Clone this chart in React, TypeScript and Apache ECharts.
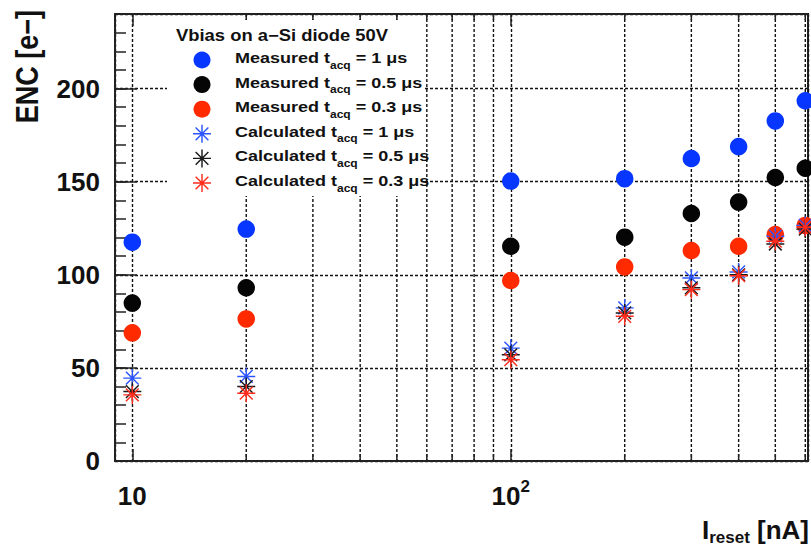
import { useEffect, useRef } from "react";
import * as echarts from "echarts";

// Reset current of the preamplifier [nA]
const resetCurrents = [10, 20, 100, 200, 300, 400, 500, 600];

// Measured ENC [e-] for three acquisition times
const measured1us = [117.5, 124.5, 150.3, 151.6, 162.4, 168.8, 182.6, 193.4];
const measured05us = [84.8, 93.0, 115.3, 120.2, 132.9, 139.0, 152.2, 157.2];
const measured03us = [68.8, 76.3, 96.9, 104.2, 113.0, 115.3, 121.6, 126.5];

// Calculated ENC [e-]
const calculated1us = [44.5, 45.4, 60.6, 82.2, 98.3, 101.5, 120.7, 126.5];
const calculated05us = [37.3, 40.0, 57.0, 79.5, 93.0, 100.0, 116.5, 124.5];
const calculated03us = [35.5, 36.4, 54.4, 77.7, 92.0, 99.5, 118.0, 125.5];

// Intermediate decade positions on the logarithmic current axis
const minorCurrents = [20, 30, 40, 50, 60, 70, 80, 90, 200, 300, 400, 500, 600];

const legendTitle = "Vbias on a\u2212Si diode 50V";
const legendKinds = ["Measured", "Measured", "Measured", "Calculated", "Calculated", "Calculated"];
const legendTimes = ["1", "0.5", "0.3", "1", "0.5", "0.3"];

const FONT = "'Liberation Sans', Arial, Helvetica, sans-serif";
const INK = "#111";
const FRAME = "#222";
const GRID_INK = "#111";

const COLORS = {
  blue: "#0636ff",
  black: "#050505",
  red: "#ff2a00",
  blueStar: "#2d55ff",
  blackStar: "#1a1a1a",
  redStar: "#ff2b1c",
};

// Eight-armed asterisk built from four thin bars, all wound the same way
const ASTERISK_D =
  "M-10 -0.8 L10 -0.8 L10 0.8 L-10 0.8 Z " +
  "M-0.8 -10 L0.8 -10 L0.8 10 L-0.8 10 Z " +
  "M-7.636 -6.504 L-6.504 -7.636 L7.636 6.504 L6.504 7.636 Z " +
  "M-6.504 7.636 L-7.636 6.504 L6.504 -7.636 L7.636 -6.504 Z";

const seriesDefs = [
  { values: measured1us, color: COLORS.blue, star: false },
  { values: measured05us, color: COLORS.black, star: false },
  { values: measured03us, color: COLORS.red, star: false },
  { values: calculated1us, color: COLORS.blueStar, star: true },
  { values: calculated05us, color: COLORS.blackStar, star: true },
  { values: calculated03us, color: COLORS.redStar, star: true },
];

const seriesName = (i: number) => `${legendKinds[i]} t_acq = ${legendTimes[i]} \u03bcs`;

function buildLegend() {
  const children: any[] = [
    {
      type: "rect",
      shape: { x: 167, y: 20, width: 258, height: 176 },
      style: { fill: "#fff" },
      z: 10,
    },
    {
      type: "text",
      x: 176,
      y: 35.5,
      scaleX: 1.15,
      z: 11,
      style: {
        text: legendTitle,
        fontSize: 16,
        fontWeight: "bold",
        fontFamily: FONT,
        fill: INK,
        align: "left",
        verticalAlign: "middle",
        textAlign: "left",
        textVerticalAlign: "middle",
      },
    },
  ];
  seriesDefs.forEach((def, i) => {
    const y = 60 + i * 24.6;
    if (def.star) {
      children.push({
        type: "asterisk",
        x: 202,
        y,
        scaleX: 0.9,
        scaleY: 0.9,
        z: 11,
        style: { fill: def.color },
      });
    } else {
      children.push({
        type: "circle",
        shape: { cx: 202, cy: y, r: 8.5 },
        z: 11,
        style: { fill: def.color },
      });
    }
    children.push({
      type: "text",
      x: 235,
      y: y - 2,
      scaleX: 1.2,
      z: 11,
      style: {
        text: `{m|${legendKinds[i]} t}{s|acq}{m| = ${legendTimes[i]} \u03bcs}`,
        fontFamily: FONT,
        fill: INK,
        align: "left",
        verticalAlign: "middle",
        textAlign: "left",
        textVerticalAlign: "middle",
        rich: {
          m: { fontSize: 15, fontWeight: "bold", fontFamily: FONT, fill: INK, color: INK },
          s: { fontSize: 10, fontWeight: "bold", fontFamily: FONT, fill: INK, color: INK, padding: [14, 0, 0, 0] },
        },
      },
    });
  });
  return children;
}

function buildOption() {
  const tickLabel = (v: number) => {
    if (Math.abs(v - 10) < 1e-6) return "{b|10}";
    if (Math.abs(v - 100) < 1e-6) return "{b|10}{s|2}";
    return "";
  };

  const scatterSeries = seriesDefs.map((def, i) => ({
    type: "scatter",
    name: seriesName(i),
    xAxisIndex: 0,
    yAxisIndex: 0,
    data: resetCurrents.map((x, k) => [x, def.values[k]]),
    symbol: def.star ? "path://" + ASTERISK_D : "circle",
    symbolSize: def.star ? 18 : 17.5,
    itemStyle: { color: def.color, opacity: 1 },
    z: 3 + i,
    silent: true,
  }));

  const minorGrid = {
    type: "custom",
    xAxisIndex: 0,
    yAxisIndex: 0,
    silent: true,
    z: 1,
    data: minorCurrents.map((v) => [v, 0]),
    renderItem: (params: any, api: any) => {
      const x = api.coord([api.value(0), 0])[0];
      const cs = params.coordSys;
      const top = cs.y;
      const bottom = cs.y + cs.height;
      return {
        type: "group",
        children: [
          {
            type: "line",
            shape: { x1: x, y1: top, x2: x, y2: bottom },
            style: { stroke: GRID_INK, lineWidth: 1.4, lineDash: [3, 2] },
          },
          {
            type: "line",
            shape: { x1: x, y1: bottom, x2: x, y2: bottom - 7 },
            style: { stroke: FRAME, lineWidth: 1.5 },
          },
          {
            type: "line",
            shape: { x1: x, y1: top, x2: x, y2: top + 6 },
            style: { stroke: FRAME, lineWidth: 1.5 },
          },
        ],
      };
    },
  };

  return {
    animation: false,
    backgroundColor: "#fff",
    textStyle: { fontFamily: FONT },
    grid: {
      left: 115,
      top: 14,
      width: 693,
      height: 447,
      show: true,
      borderColor: FRAME,
      borderWidth: 2,
      backgroundColor: "#fff",
      containLabel: false,
      outerBoundsMode: "none",
    },
    xAxis: [
      {
        type: "log",
        logBase: 10,
        min: 9,
        max: 610,
        position: "bottom",
        axisLine: { show: true, onZero: false, lineStyle: { color: FRAME, width: 2 } },
        axisTick: { show: true, inside: true, length: 12, lineStyle: { color: FRAME, width: 1.5 } },
        axisLabel: {
          margin: 17,
          formatter: tickLabel,
          color: INK,
          rich: {
            b: { fontSize: 26, fontWeight: "bold", fontFamily: FONT, color: INK, lineHeight: 36 },
            s: { fontSize: 17, fontWeight: "bold", fontFamily: FONT, color: INK, padding: [0, 0, 19, 0] },
          },
        },
        splitLine: { show: true, lineStyle: { type: [3, 2], color: GRID_INK, width: 1.4 } },
      },
      {
        type: "log",
        logBase: 10,
        min: 9,
        max: 610,
        position: "top",
        axisLine: { show: true, onZero: false, lineStyle: { color: FRAME, width: 2 } },
        axisTick: { show: true, inside: true, length: 12, lineStyle: { color: FRAME, width: 1.5 } },
        axisLabel: { show: false },
        splitLine: { show: false },
      },
    ],
    yAxis: [
      {
        type: "value",
        min: 0,
        max: 240,
        interval: 50,
        position: "left",
        axisLine: { show: true, onZero: false, lineStyle: { color: FRAME, width: 2 } },
        axisTick: { show: true, inside: true, length: 22, lineStyle: { color: FRAME, width: 1.5 } },
        axisLabel: {
          margin: 15,
          fontSize: 26,
          fontWeight: "bold",
          fontFamily: FONT,
          color: INK,
          showMaxLabel: false,
        },
        splitLine: { show: true, lineStyle: { type: [3, 2], color: GRID_INK, width: 1.4 } },
      },
      {
        type: "value",
        min: 0,
        max: 240,
        interval: 10,
        position: "left",
        axisLine: { show: false },
        axisTick: { show: true, inside: true, length: 11, lineStyle: { color: FRAME, width: 1.5 } },
        axisLabel: { show: false },
        splitLine: { show: false },
      },
    ],
    series: [minorGrid, ...scatterSeries],
    graphic: [
      ...buildLegend(),
      {
        type: "text",
        x: 27,
        y: 10,
        rotation: Math.PI / 2,
        scaleY: 1.15,
        z: 11,
        style: {
          text: "ENC [e\u2212]",
          fontSize: 27,
          fontWeight: "bold",
          fontFamily: FONT,
          fill: INK,
          align: "right",
          verticalAlign: "middle",
          textAlign: "right",
          textVerticalAlign: "middle",
        },
      },
      {
        type: "text",
        x: 809,
        y: 530,
        z: 11,
        style: {
          text: "{m|I}{s|reset}{m| [nA]}",
          fontFamily: FONT,
          fill: INK,
          align: "right",
          verticalAlign: "middle",
          textAlign: "right",
          textVerticalAlign: "middle",
          rich: {
            m: { fontSize: 26, fontWeight: "bold", fontFamily: FONT, fill: INK, color: INK },
            s: { fontSize: 17, fontWeight: "bold", fontFamily: FONT, fill: INK, color: INK, padding: [15, 0, 0, 0] },
          },
        },
      },
    ],
  };
}

export default function App() {
  const ref = useRef<HTMLDivElement>(null);

  useEffect(() => {
    if (!ref.current) return;
    echarts.graphic.registerShape("asterisk", echarts.graphic.extendPath(ASTERISK_D, {}));
    const chart = echarts.init(ref.current, null, { renderer: "svg" });
    chart.setOption(buildOption() as any);
    return () => chart.dispose();
  }, []);

  return (
    <div
      ref={ref}
      style={{ position: "absolute", left: 0, top: 0, width: 811, height: 550, background: "#fff" }}
    />
  );
}
